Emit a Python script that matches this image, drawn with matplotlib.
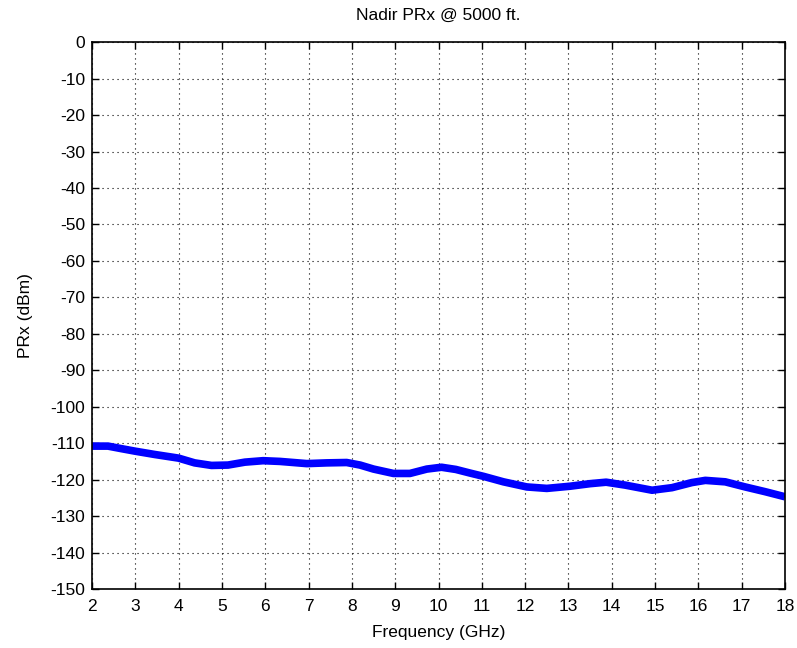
import numpy as np
import matplotlib
matplotlib.use("Agg")
import matplotlib.pyplot as plt

# Received power at nadir, 5000 ft altitude
freq_ghz = [2.0, 2.37, 2.68, 3.0, 3.45, 4.0, 4.37, 4.76, 5.14, 5.53, 5.95, 6.34,
            6.96, 7.42, 7.88, 8.19, 8.5, 8.96, 9.34, 9.73, 10.07, 10.4, 10.73,
            11.04, 11.5, 12.04, 12.5, 13.04, 13.5, 13.87, 14.31, 14.93, 15.39,
            15.85, 16.16, 16.62, 17.08, 17.54, 18.0]
prx_dbm = [-110.8, -110.8, -111.5, -112.2, -113.1, -114.1, -115.4, -116.1, -116.0,
           -115.2, -114.8, -115.0, -115.6, -115.4, -115.3, -116.0, -117.1, -118.3,
           -118.3, -117.1, -116.6, -117.2, -118.2, -119.1, -120.6, -122.0, -122.4,
           -121.8, -121.1, -120.7, -121.5, -122.9, -122.2, -120.8, -120.2, -120.6,
           -122.0, -123.3, -124.7]

x_ticks = list(range(2, 19))
y_ticks = list(range(-150, 1, 10))

plt.rcParams['font.family'] = ['Liberation Sans', 'DejaVu Sans']
plt.rcParams['axes.unicode_minus'] = False

fig = plt.figure(figsize=(7.97, 6.48), dpi=100)
ax = fig.add_axes([0.1154, 0.0910, 0.8696, 0.8440])

ax.plot(freq_ghz, prx_dbm, color=(0, 0, 1), linewidth=5.5,
        solid_capstyle='butt', solid_joinstyle='round')

ax.set_xlim(2, 18)
ax.set_ylim(-150, 0)
ax.set_xticks(x_ticks)
ax.set_yticks(y_ticks)
ax.tick_params(direction='in', length=5, width=1, top=True, right=True,
               labelsize=12.5, colors='black')
ax.tick_params(axis='x', pad=7)
ax.tick_params(axis='y', pad=5)
ax.grid(True, linestyle=(0, (1, 3.5)), color='black', linewidth=0.8)
for s in ax.spines.values():
    s.set_linewidth(1.2)

ax.set_title('Nadir PRx @ 5000 ft.', fontsize=12.5, pad=16)
ax.set_xlabel('Frequency (GHz)', fontsize=12.5, labelpad=8)
ax.set_ylabel('PRx (dBm)', fontsize=12.5, labelpad=12)

fig.savefig('out.png', dpi=100)
